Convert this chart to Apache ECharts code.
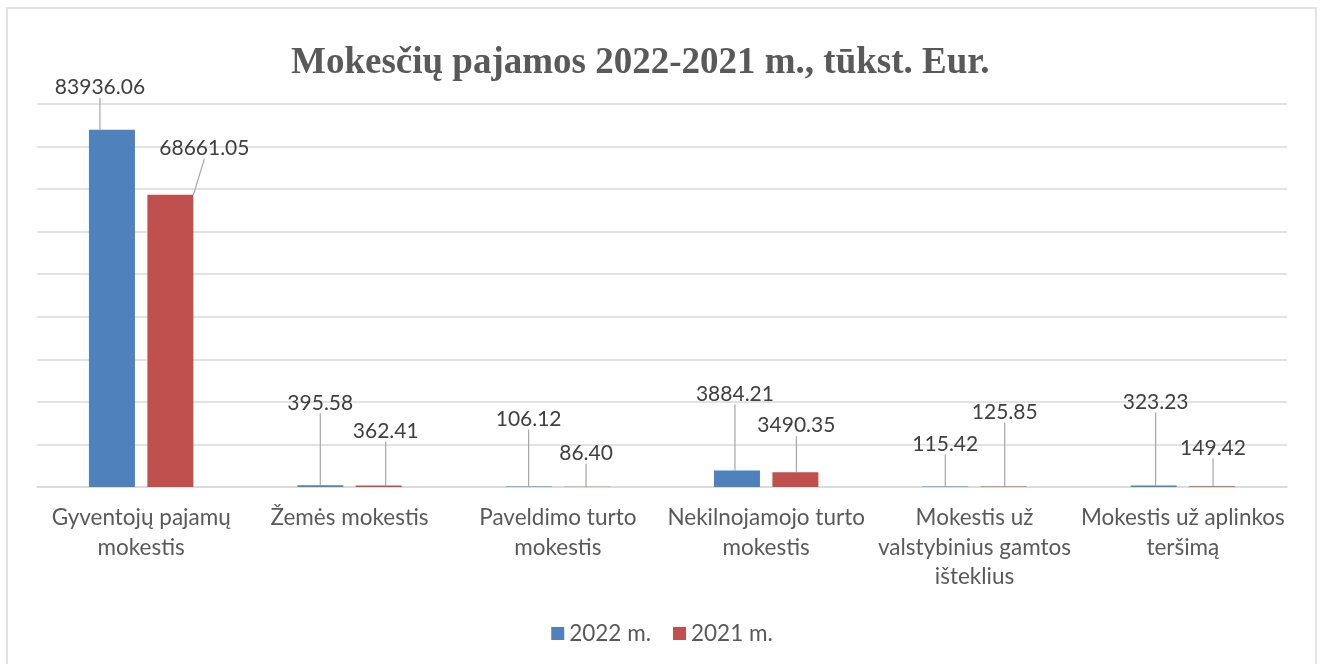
<!DOCTYPE html>
<html>
<head>
<meta charset="utf-8">
<script src="https://cdn.jsdelivr.net/npm/echarts@6/dist/echarts.min.js"></script>
<style>
  html, body { margin: 0; padding: 0; background: #fff; }
  #chart { width: 1324px; height: 664px; }
</style>
</head>
<body>
<div id="chart"></div>
<script>
// categories (line breaks follow the original wrapping)
const categories = [
  'Gyventojų pajamų\nmokestis',
  'Žemės mokestis',
  'Paveldimo turto\nmokestis',
  'Nekilnojamojo turto\nmokestis',
  'Mokestis už\nvalstybinius gamtos\ništeklius',
  'Mokestis už aplinkos\nteršimą'
];
const seriesNames = ['2022 m.', '2021 m.'];
const values2022 = [83936.06, 395.58, 106.12, 3884.21, 115.42, 323.23];
const values2021 = [68661.05, 362.41, 86.40, 3490.35, 125.85, 149.42];

// hand-placed label offsets (as dragged in the original)
const labelDx2022 = [-12, 0, 0, -2, 0, 2];
const labelDy2022 = [-27, -67, -52, -61, -27, -68];
const labelDx2021 = [34, 7, -1, 1, 1, 1];
const labelDy2021 = [-31, -39, -18, -31, -59, -23];

const labelFont = 'Lato, "Noto Sans", sans-serif';

const chart = echarts.init(document.getElementById('chart'));

function makeSeries(name, values, color, dxs, dys) {
  return {
    name: name,
    type: 'bar',
    data: values,
    barWidth: 46,
    barGap: '27%',
    itemStyle: { color: color },
    label: {
      show: true,
      position: 'top',
      distance: 5,
      color: '#404040',
      fontFamily: labelFont,
      fontSize: 21,
      formatter: p => p.value.toFixed(2)
    },
    labelLine: {
      show: true,
      lineStyle: { color: '#a6a6a6', width: 1.2 }
    },
    labelLayout: p => ({ dx: dxs[p.dataIndex], dy: dys[p.dataIndex] })
  };
}

chart.setOption({
  backgroundColor: '#fff',
  animation: false,
  title: {
    text: 'Mokesčių pajamos 2022-2021 m., tūkst. Eur.',
    left: 286,
    top: 40,
    textStyle: {
      fontFamily: '"Liberation Serif", "DejaVu Serif", serif',
      fontWeight: 'bold',
      fontSize: 37,
      color: '#595959'
    }
  },
  graphic: [{
    type: 'rect',
    shape: { x: 7, y: 8, width: 1309, height: 700 },
    style: { fill: 'none', stroke: '#d9d9d9', lineWidth: 1.5 },
    silent: true,
    z: -1
  }],
  legend: {
    data: seriesNames,
    left: 'center',
    top: 617,
    icon: 'rect',
    itemWidth: 13,
    itemHeight: 13,
    itemGap: 22,
    textStyle: { fontFamily: labelFont, fontSize: 22.5, color: '#595959' }
  },
  grid: {
    left: 37,
    right: 37,
    top: 104,
    height: 383,
    containLabel: false
  },
  xAxis: {
    type: 'category',
    data: categories,
    axisLine: { lineStyle: { color: '#d9d9d9', width: 1.5 } },
    axisTick: { show: false },
    axisLabel: {
      interval: 0,
      margin: 16,
      color: '#595959',
      fontFamily: labelFont,
      fontSize: 22.5,
      lineHeight: 29.5,
      align: 'center'
    }
  },
  yAxis: {
    type: 'value',
    min: 0,
    max: 90000,
    interval: 10000,
    axisLine: { show: false },
    axisTick: { show: false },
    axisLabel: { show: false },
    splitLine: { lineStyle: { color: '#d9d9d9', width: 1.5 } }
  },
  series: [
    makeSeries(seriesNames[0], values2022, '#4f81bd', labelDx2022, labelDy2022),
    makeSeries(seriesNames[1], values2021, '#c0504d', labelDx2021, labelDy2021)
  ]
});
</script>
</body>
</html>
